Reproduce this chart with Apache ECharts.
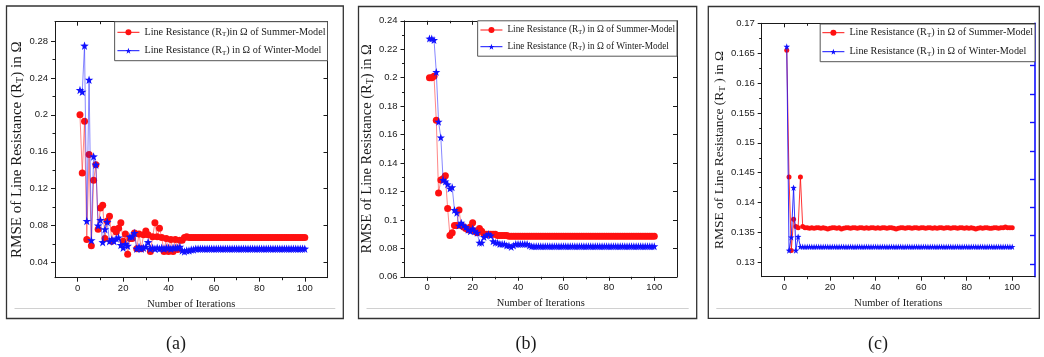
<!DOCTYPE html>
<html><head><meta charset="utf-8">
<script src="https://cdn.jsdelivr.net/npm/echarts@6/dist/echarts.min.js"></script>
<style>html,body{margin:0;padding:0;background:#fff}#c{width:1044px;height:357px}</style>
</head><body><div id="c"></div>
<script>
// ---------------- DATA ----------------
const iterations = [1,2,3,4,5,6,7,8,9,10,11,12,13,14,15,16,17,18,19,20,
21,22,23,24,25,26,27,28,29,30,31,32,33,34,35,36,37,38,39,40,
41,42,43,44,45,46,47,48,49,50,51,52,53,54,55,56,57,58,59,60,
61,62,63,64,65,66,67,68,69,70,71,72,73,74,75,76,77,78,79,80,
81,82,83,84,85,86,87,88,89,90,91,92,93,94,95,96,97,98,99,100];

const aSummer = [0.200,0.137,0.193,0.065,0.157,0.058,0.129,0.146,0.076,0.099,
0.102,0.066,0.085,0.090,0.063,0.076,0.073,0.077,0.083,0.063,
0.071,0.049,0.066,0.066,0.072,0.055,0.071,0.055,0.070,0.074,
0.070,0.052,0.068,0.083,0.068,0.077,0.067,0.052,0.066,0.052,
0.065,0.052,0.065,0.054,0.064,0.064,0.067,0.068,0.067,0.067,
0.067,0.067,0.067,0.067,0.067,0.067,0.067,0.067,0.067,0.067,
0.067,0.067,0.067,0.067,0.067,0.067,0.067,0.067,0.067,0.067,
0.067,0.067,0.067,0.067,0.067,0.067,0.067,0.067,0.067,0.067,
0.067,0.067,0.067,0.067,0.067,0.067,0.067,0.067,0.067,0.067,
0.067,0.067,0.067,0.067,0.067,0.067,0.067,0.067,0.067,0.067];

const aWinter = [0.227,0.225,0.275,0.085,0.238,0.064,0.155,0.146,0.080,0.086,
0.062,0.076,0.084,0.063,0.065,0.063,0.066,0.067,0.059,0.056,
0.060,0.058,0.068,0.068,0.072,0.055,0.057,0.055,0.056,0.057,
0.062,0.055,0.056,0.055,0.056,0.055,0.056,0.055,0.056,0.056,
0.055,0.056,0.056,0.056,0.057,0.053,0.052,0.053,0.053,0.054,
0.054,0.055,0.055,0.055,0.055,0.055,0.055,0.055,0.055,0.055,
0.055,0.055,0.055,0.055,0.055,0.055,0.055,0.055,0.055,0.055,
0.055,0.055,0.055,0.055,0.055,0.055,0.055,0.055,0.055,0.055,
0.055,0.055,0.055,0.055,0.055,0.055,0.055,0.055,0.055,0.055,
0.055,0.055,0.055,0.055,0.055,0.055,0.055,0.055,0.055,0.055];

const bSummer = [0.200,0.200,0.201,0.170,0.119,0.128,0.129,0.131,0.108,0.089,
0.091,0.096,0.096,0.107,0.096,0.095,0.094,0.093,0.095,0.098,
0.092,0.091,0.094,0.092,0.090,0.090,0.090,0.090,0.090,0.090,
0.089,0.089,0.089,0.089,0.089,0.0885,0.0885,0.0885,0.0885,0.0885,
0.0885,0.0885,0.0885,0.0885,0.0885,0.0885,0.0885,0.0885,0.0885,0.0885,
0.0885,0.0885,0.0885,0.0885,0.0885,0.0885,0.0885,0.0885,0.0885,0.0885,
0.0885,0.0885,0.0885,0.0885,0.0885,0.0885,0.0885,0.0885,0.0885,0.0885,
0.0885,0.0885,0.0885,0.0885,0.0885,0.0885,0.0885,0.0885,0.0885,0.0885,
0.0885,0.0885,0.0885,0.0885,0.0885,0.0885,0.0885,0.0885,0.0885,0.0885,
0.0885,0.0885,0.0885,0.0885,0.0885,0.0885,0.0885,0.0885,0.0885,0.0885];

const bWinter = [0.2275,0.2275,0.2265,0.204,0.169,0.158,0.128,0.127,0.125,0.122,
0.123,0.107,0.105,0.096,0.098,0.096,0.095,0.093,0.092,0.094,
0.092,0.091,0.084,0.084,0.088,0.089,0.090,0.089,0.085,0.084,
0.084,0.083,0.083,0.083,0.082,0.082,0.081,0.082,0.083,0.083,
0.083,0.083,0.083,0.083,0.082,0.0815,0.0815,0.0815,0.0815,0.0815,
0.0815,0.0815,0.0815,0.0815,0.0815,0.0815,0.0815,0.0815,0.0815,0.0815,
0.0815,0.0815,0.0815,0.0815,0.0815,0.0815,0.0815,0.0815,0.0815,0.0815,
0.0815,0.0815,0.0815,0.0815,0.0815,0.0815,0.0815,0.0815,0.0815,0.0815,
0.0815,0.0815,0.0815,0.0815,0.0815,0.0815,0.0815,0.0815,0.0815,0.0815,
0.0815,0.0815,0.0815,0.0815,0.0815,0.0815,0.0815,0.0815,0.0815,0.0815];

const cSummer = [0.1655,0.1443,0.1320,0.1372,0.1360,0.1358,0.1443,0.1360,0.1358,0.1358,
0.1357,0.1358,0.1357,0.1358,0.1358,0.1357,0.1358,0.1357,0.1356,0.1357,
0.1358,0.1358,0.1357,0.1358,0.1356,0.1357,0.1358,0.1358,0.1357,0.1358,
0.1358,0.1357,0.1358,0.1358,0.1357,0.1358,0.1357,0.1358,0.1358,0.1357,
0.1358,0.1357,0.1358,0.1358,0.1357,0.1358,0.1358,0.1357,0.1356,0.1357,
0.1358,0.1358,0.1357,0.1358,0.1358,0.1357,0.1358,0.1358,0.1357,0.1358,
0.1358,0.1357,0.1358,0.1358,0.1357,0.1358,0.1357,0.1358,0.1358,0.1357,
0.1358,0.1358,0.1357,0.1358,0.1358,0.1357,0.1358,0.1358,0.1357,0.1358,
0.1357,0.1358,0.1357,0.1356,0.1357,0.1358,0.1357,0.1358,0.1358,0.1357,
0.1357,0.1358,0.1358,0.1357,0.1358,0.1358,0.1359,0.1358,0.1358,0.1358];

const cWinter = [0.1661,0.1320,0.1342,0.1425,0.1320,0.1343,0.1326,0.1326,0.1326,0.1326,
0.1326,0.1326,0.1326,0.1326,0.1326,0.1326,0.1326,0.1326,0.1326,0.1326,
0.1326,0.1326,0.1326,0.1326,0.1326,0.1326,0.1326,0.1326,0.1326,0.1326,
0.1326,0.1326,0.1326,0.1326,0.1326,0.1326,0.1326,0.1326,0.1326,0.1326,
0.1326,0.1326,0.1326,0.1326,0.1326,0.1326,0.1326,0.1326,0.1326,0.1326,
0.1326,0.1326,0.1326,0.1326,0.1326,0.1326,0.1326,0.1326,0.1326,0.1326,
0.1326,0.1326,0.1326,0.1326,0.1326,0.1326,0.1326,0.1326,0.1326,0.1326,
0.1326,0.1326,0.1326,0.1326,0.1326,0.1326,0.1326,0.1326,0.1326,0.1326,
0.1326,0.1326,0.1326,0.1326,0.1326,0.1326,0.1326,0.1326,0.1326,0.1326,
0.1326,0.1326,0.1326,0.1326,0.1326,0.1326,0.1326,0.1326,0.1326,0.1326];

const xTicks = [0,20,40,60,80,100];
const xMinorTicks = [10,30,50,70,90];
const aYTicks = [0.04,0.08,0.12,0.16,0.2,0.24,0.28];
const aYLabels = ['0.04','0.08','0.12','0.16','0.2','0.24','0.28'];
const aYMinor = [0.06,0.10,0.14,0.18,0.22,0.26];
const bYTicks = [0.06,0.08,0.10,0.12,0.14,0.16,0.18,0.20,0.22,0.24];
const bYLabels = ['0.06','0.08','0.1','0.12','0.14','0.16','0.18','0.2','0.22','0.24'];
const bYMinor = [0.07,0.09,0.11,0.13,0.15,0.17,0.19,0.21,0.23];
const cYTicks = [0.13,0.135,0.14,0.145,0.15,0.155,0.16,0.165,0.17];
const cYLabels = ['0.13','0.135','0.14','0.145','0.15','0.155','0.16','0.165','0.17'];
const cYMinor = [0.1325,0.1375,0.1425,0.1475,0.1525,0.1575,0.1625,0.1675];
const cRightTicks = [0.05,0.162,0.274,0.386,0.497,0.609,0.721,0.833];

const summerLabelA = 'Line Resistance (R{sub|T})in Ω of Summer-Model';
const winterLabelA = 'Line Resistance (R{sub|T}) in Ω of Winter-Model';
const summerLabel = 'Line Resistance (R{sub|T}) in Ω of Summer-Model';
const winterLabel = 'Line Resistance (R{sub|T}) in Ω of Winter-Model';
const yTitleAB = 'RMSE of Line Resistance (R{sub|T}) in Ω';
const yTitleC = 'RMSE of Line Resistance (R{sub|T} ) in Ω';
const xTitle = 'Number of Iterations';
const captions = ['(a)','(b)','(c)'];

// ---------------- LAYOUT ----------------
const SANS = 'Liberation Sans, Arial, sans-serif';
const SERIF = 'Liberation Serif, Times New Roman, serif';
const INK = '#1a1a1a';
const STAR = 'path://M0,-10L2.35,-3.24L9.51,-3.09L3.8,1.24L5.88,8.09L0,4L-5.88,8.09L-3.8,1.24L-9.51,-3.09L-2.35,-3.24Z';

const panels = [
  {grid:{left:55, top:21.7, width:272.5, height:256}, yMin:0.0235, yMax:0.301,
   yTicks:aYTicks, yLabels:aYLabels, yMinor:aYMinor, summer:aSummer, winter:aWinter,
   sLabel:summerLabelA, wLabel:winterLabelA, yTitle:yTitleAB, yTitleSize:15, yNameGap:22, xNameGap:19,
   legend:{right:1044-327.5, top:21.7, fontSize:10.2, lineHeight:14, gap:4.4, pad:[3.6,2,3,2.3]},
   sym:{r:7, b:8.5}, lineOp:0.5, frame:[6.5,6,336.8,312.5], cap:176},
  {grid:{left:404.5, top:20.8, width:272.5, height:256}, yMin:0.06, yMax:0.24,
   yTicks:bYTicks, yLabels:bYLabels, yMinor:bYMinor, summer:bSummer, winter:bWinter,
   sLabel:summerLabel, wLabel:winterLabel, yTitle:yTitleAB, yTitleSize:14.5, yNameGap:23, xNameGap:18.5,
   legend:{right:1044-677, top:20.8, fontSize:9.3, lineHeight:13, gap:3.7, pad:[2.7,2,3,2.3]},
   sym:{r:7, b:8}, lineOp:0.5, frame:[358.5,6.5,338.2,312], cap:526},
  {grid:{left:761.7, top:23.3, width:273.3, height:253.4}, yMin:0.1276, yMax:0.17,
   yTicks:cYTicks, yLabels:cYLabels, yMinor:cYMinor, summer:cSummer, winter:cWinter,
   sLabel:summerLabel, wLabel:winterLabel, yTitle:yTitleC, yTitleSize:13.5, yNameGap:26, xNameGap:19.5,
   legend:{right:1044-1035, top:24, fontSize:10.2, lineHeight:14, gap:5, pad:[1.7,2,3,1.7]},
   sym:{r:5, b:6.5}, lineOp:0.85, frame:[708.3,6.5,331,311.8], cap:878}
];

const xAxis = [], yAxis = [], grid = [], series = [], legend = [], graphic = [];
const subRich = (fs) => ({sub:{fontSize:fs*0.68, fontFamily:SERIF, color:INK, padding:[fs*0.45,0,0,0]}});

panels.forEach((p, i) => {
  grid.push(Object.assign({containLabel:false}, p.grid));
  const lineOn = {show:true, onZero:false, lineStyle:{color:INK, width:1}};
  const lineOff = {show:false, onZero:false};
  const fmt = (v) => { let k=0, d=1e9; p.yTicks.forEach((t,j)=>{ if(Math.abs(t-v)<d){d=Math.abs(t-v);k=j;} }); return p.yLabels[k]; };
  // X axes
  const xMain = xAxis.length;
  xAxis.push({type:'value', gridIndex:i, min:-10, max:110, position:'bottom', axisLine:lineOn,
    axisTick:{show:true, inside:false, length:4, customValues:xTicks, lineStyle:{color:INK}},
    axisLabel:{show:true, customValues:xTicks, margin:6, fontSize:9.5, fontFamily:SANS, color:INK},
    splitLine:{show:false}, name:xTitle, nameLocation:'middle', nameGap:p.xNameGap,
    nameTextStyle:{fontFamily:SERIF, fontSize:10.5, color:INK}});
  xAxis.push({type:'value', gridIndex:i, min:-10, max:110, position:'bottom', axisLine:lineOff,
    axisTick:{show:true, inside:false, length:2.5, customValues:xMinorTicks, lineStyle:{color:INK}},
    axisLabel:{show:false}, splitLine:{show:false}});
  xAxis.push({type:'value', gridIndex:i, min:-10, max:110, position:'top', axisLine:lineOn,
    axisTick:{show:true, inside:true, length:4, customValues:xTicks, lineStyle:{color:INK}},
    axisLabel:{show:false}, splitLine:{show:false}});
  xAxis.push({type:'value', gridIndex:i, min:-10, max:110, position:'top', axisLine:lineOff,
    axisTick:{show:true, inside:true, length:2.5, customValues:xMinorTicks, lineStyle:{color:INK}},
    axisLabel:{show:false}, splitLine:{show:false}});
  // Y axes
  const yMain = yAxis.length;
  yAxis.push({type:'value', gridIndex:i, min:p.yMin, max:p.yMax, position:'left', axisLine:lineOn,
    axisTick:{show:true, inside:false, length:4, customValues:p.yTicks, lineStyle:{color:INK}},
    axisLabel:{show:true, customValues:p.yTicks, margin:7, fontSize:9.5, fontFamily:SANS, color:INK, formatter:fmt},
    splitLine:{show:false}, name:p.yTitle, nameLocation:'middle', nameRotate:90, nameGap:p.yNameGap,
    nameTextStyle:{fontFamily:SERIF, fontSize:p.yTitleSize, color:INK, rich:subRich(p.yTitleSize)}});
  yAxis.push({type:'value', gridIndex:i, min:p.yMin, max:p.yMax, position:'left', axisLine:lineOff,
    axisTick:{show:true, inside:false, length:2.5, customValues:p.yMinor, lineStyle:{color:INK}},
    axisLabel:{show:false}, splitLine:{show:false}});
  if (i < 2) {
    yAxis.push({type:'value', gridIndex:i, min:p.yMin, max:p.yMax, position:'right', axisLine:lineOn,
      axisTick:{show:true, inside:true, length:4, customValues:p.yTicks, lineStyle:{color:INK}},
      axisLabel:{show:false}, splitLine:{show:false}});
  } else {
    yAxis.push({type:'value', gridIndex:i, min:0, max:1, position:'right',
      axisLine:{show:true, onZero:false, lineStyle:{color:'#1010ff', width:1.6}},
      axisTick:{show:true, inside:true, length:5, customValues:cRightTicks, lineStyle:{color:'#1010ff', width:1.4}},
      axisLabel:{show:false}, splitLine:{show:false}});
  }
  const sName = 'S' + i, wName = 'W' + i;
  series.push({name:sName, type:'line', xAxisIndex:xMain, yAxisIndex:yMain,
    data:iterations.map((it,k)=>[it, p.summer[k]]), symbol:'circle', symbolSize:p.sym.r,
    itemStyle:{color:'#ff1010'}, lineStyle:{color:'#ff1010', width:1, opacity:p.lineOp},
    animation:false, z:3});
  series.push({name:wName, type:'line', xAxisIndex:xMain, yAxisIndex:yMain,
    data:iterations.map((it,k)=>[it, p.winter[k]]), symbol:STAR, symbolSize:p.sym.b,
    itemStyle:{color:'#1010ff'}, lineStyle:{color:'#1010ff', width:1, opacity:p.lineOp},
    animation:false, z:4});
  const L = p.legend;
  const labels = {}; labels[sName] = p.sLabel; labels[wName] = p.wLabel;
  legend.push({data:[sName, wName], right:L.right, top:L.top, orient:'vertical', selectedMode:false,
    itemWidth:22, itemHeight:7.5, itemGap:L.gap, padding:L.pad,
    borderColor:'#555', borderWidth:1, backgroundColor:'#fff',
    lineStyle:{opacity:1, width:1}, formatter:(n)=>labels[n],
    textStyle:{fontFamily:SERIF, fontSize:L.fontSize, color:INK, lineHeight:L.lineHeight, rich:subRich(L.fontSize)}});
  // frame, inner rule, caption
  const f = p.frame;
  graphic.push({type:'rect', shape:{x:f[0], y:f[1], width:f[2], height:f[3]},
    style:{fill:'none', stroke:'#333', lineWidth:1.3}, silent:true});
  graphic.push({type:'line', shape:{x1:f[0]+8, y1:308.5, x2:f[0]+f[2]-8, y2:308.5},
    style:{stroke:'#d0d0d0', lineWidth:1}, silent:true});
  graphic.push({type:'text', x:p.cap, y:344, style:{text:captions[i], font:'18px ' + SERIF,
    fill:INK, textAlign:'center', textVerticalAlign:'middle'}, silent:true});
});

const chart = echarts.init(document.getElementById('c'), null, {renderer:'canvas'});
chart.setOption({backgroundColor:'#fff', animation:false, grid, xAxis, yAxis, series, legend, graphic});
</script></body></html>
